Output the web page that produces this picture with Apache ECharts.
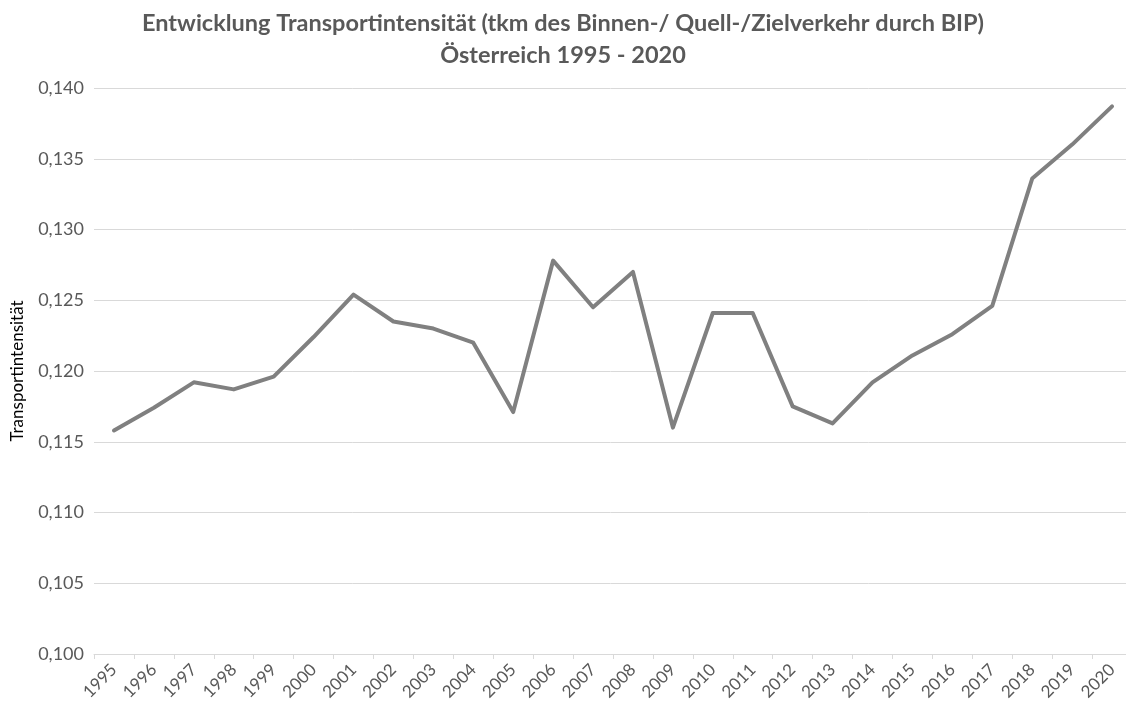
<!DOCTYPE html>
<html>
<head>
<meta charset="utf-8">
<script src="https://cdn.jsdelivr.net/npm/echarts@6/dist/echarts.min.js"></script>
<style>
  html, body { margin: 0; padding: 0; background: #fff; }
  #chart { width: 1126px; height: 704px; }
</style>
</head>
<body>
<div id="chart"></div>
<script>
const years = ['1995', '1996', '1997', '1998', '1999', '2000', '2001', '2002', '2003', '2004', '2005', '2006', '2007',
  '2008', '2009', '2010', '2011', '2012', '2013', '2014', '2015', '2016', '2017', '2018', '2019', '2020'];
const intensity = [0.1158, 0.1174, 0.1192, 0.1187, 0.1196, 0.1224, 0.1254, 0.1235, 0.1230, 0.1220, 0.1171, 0.1278, 0.1245,
  0.1270, 0.1160, 0.1241, 0.1241, 0.1175, 0.1163, 0.1192, 0.1211, 0.1226, 0.1246, 0.1336, 0.1360, 0.1387];

const chart = echarts.init(document.getElementById('chart'), null, { renderer: 'canvas' });

const font = 'Lato, "Open Sans", sans-serif';

chart.setOption({
  animation: false,
  textStyle: { fontFamily: font },
  title: {
    text: 'Entwicklung Transportintensität (tkm des Binnen-/ Quell-/Zielverkehr durch BIP)\nÖsterreich 1995 - 2020',
    left: 'center',
    top: 2,
    padding: [5, 0, 5, 26],
    textStyle: {
      color: '#595959',
      fontSize: 23.5,
      fontWeight: 'bold',
      fontFamily: font,
      lineHeight: 32
    }
  },
  grid: {
    left: 94,
    right: -6,
    top: 88,
    bottom: 50,
    outerBoundsMode: 'none'
  },
  xAxis: {
    type: 'category',
    data: years,
    boundaryGap: true,
    axisLine: { lineStyle: { color: '#d9d9d9', width: 1 } },
    axisTick: { show: true, length: 5, lineStyle: { color: '#d9d9d9' } },
    axisLabel: {
      rotate: 45,
      color: '#595959',
      fontSize: 17,
      fontFamily: font,
      margin: 13,
      interval: 0
    }
  },
  yAxis: {
    type: 'value',
    min: 0.1,
    max: 0.14,
    interval: 0.005,
    name: 'Transportintensität',
    nameLocation: 'middle',
    nameGap: 68,
    nameTextStyle: { color: '#000', fontSize: 17, fontFamily: font },
    axisLine: { show: false },
    axisTick: { show: false },
    axisLabel: {
      color: '#595959',
      fontSize: 18,
      fontFamily: font,
      margin: 10,
      formatter: (v) => v.toFixed(3).replace('.', ',')
    },
    splitLine: { lineStyle: { color: '#d9d9d9', width: 1 } }
  },
  series: [
    {
      type: 'line',
      data: intensity,
      symbol: 'none',
      lineStyle: { color: '#808080', width: 4, cap: 'round', join: 'round' }
    }
  ]
});
</script>
</body>
</html>
